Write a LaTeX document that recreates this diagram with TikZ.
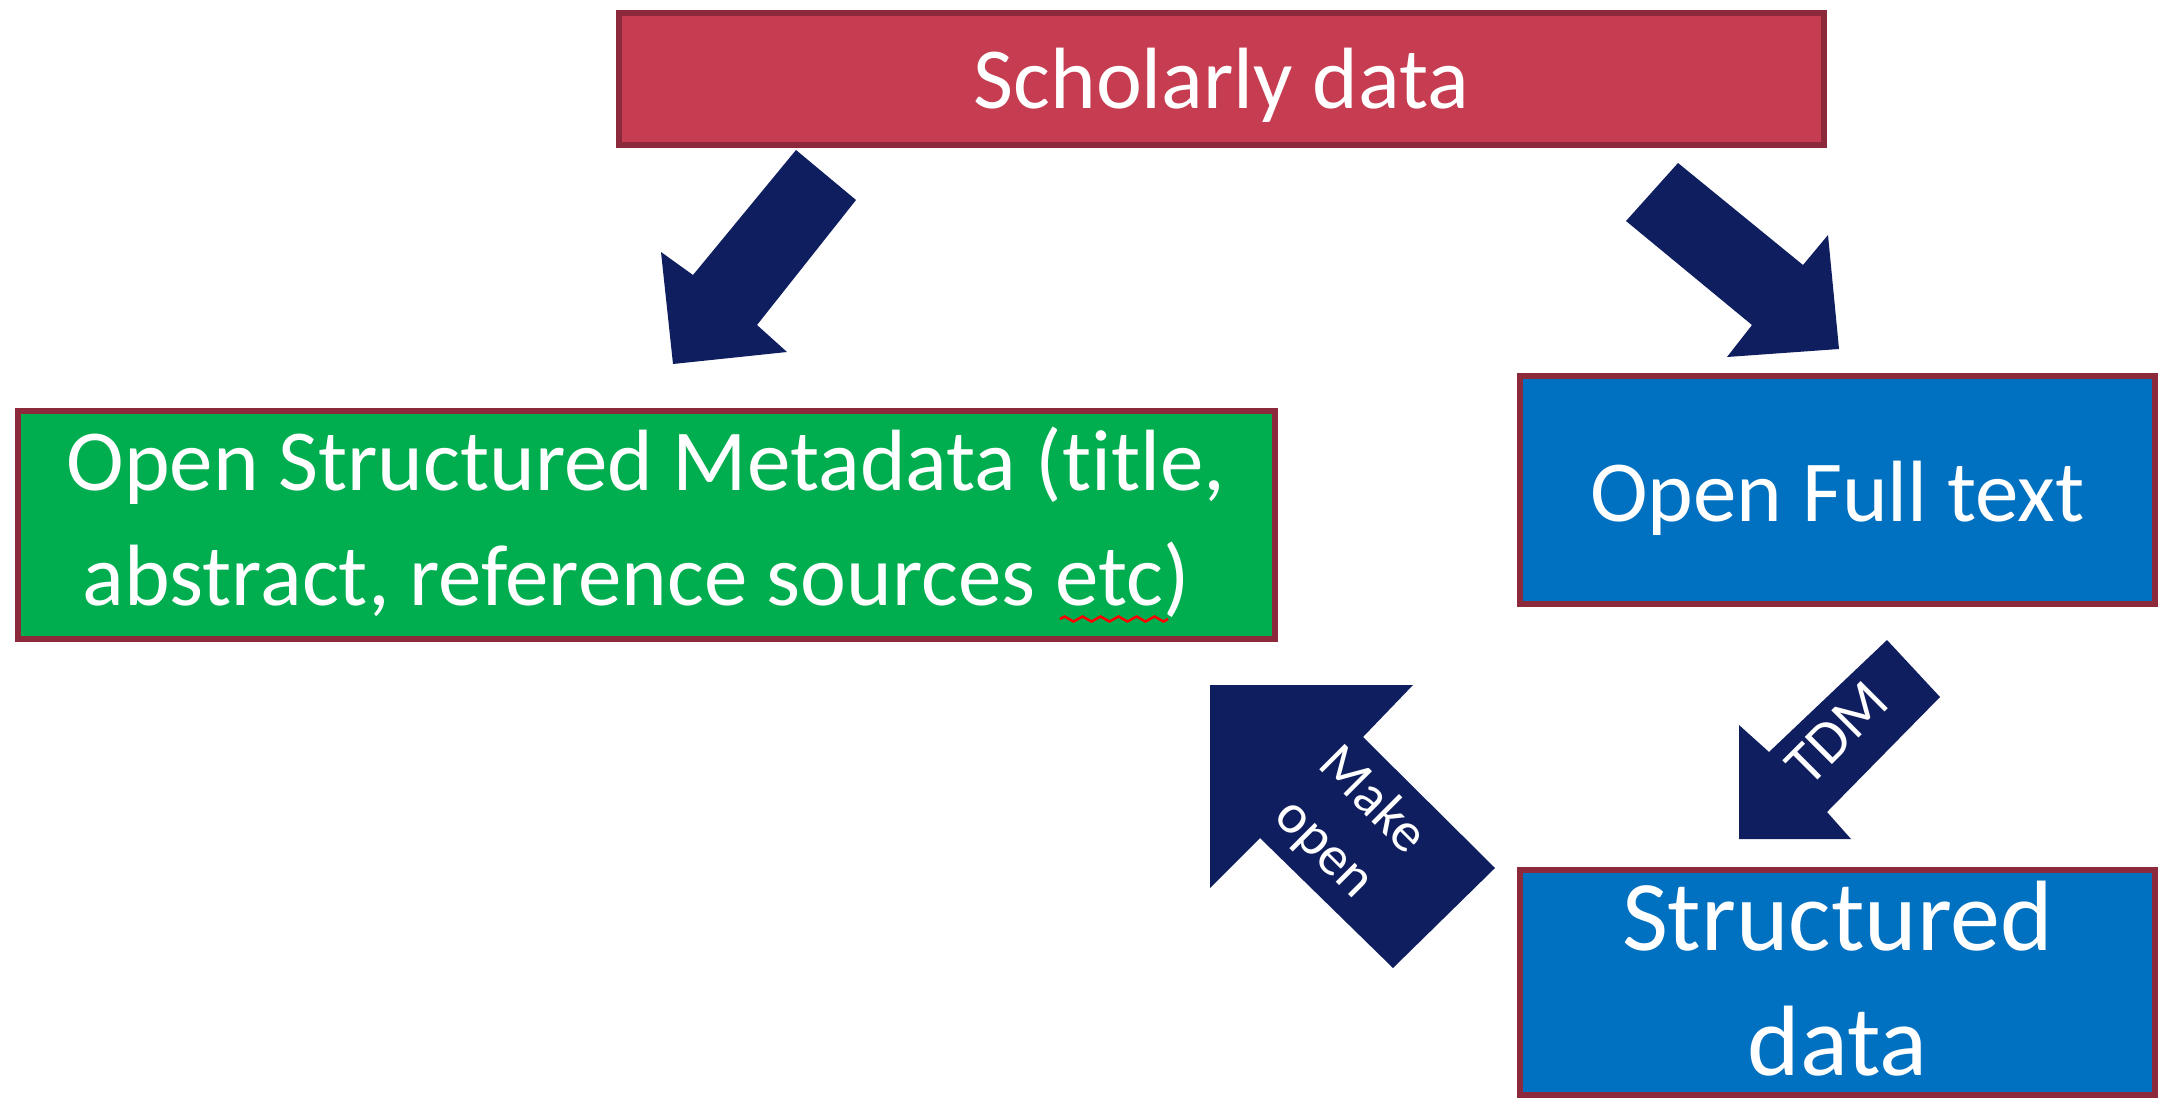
\documentclass[tikz,border=0pt]{standalone}
\usepackage{fontspec}
\setmainfont{Carlito}[Ligatures={NoCommon,NoContextual}]
\usetikzlibrary{decorations.pathmorphing,shadows}
\definecolor{navy}{HTML}{0F1E5F}
\definecolor{boxred}{HTML}{C63C50}
\definecolor{boxgreen}{HTML}{00AE50}
\definecolor{boxblue}{HTML}{0070C0}
\definecolor{edgered}{HTML}{8C2A3C}
\definecolor{shadowpink}{HTML}{C08490}
\definecolor{spellred}{HTML}{FF0000}
\begin{document}
\begin{tikzpicture}[x=1pt,y=-1pt,
  box/.style={rectangle, draw=edgered, line width=6pt, inner sep=0pt,
    drop shadow={shadow xshift=3pt, shadow yshift=-3pt, fill=shadowpink, opacity=1}},
  lbl/.style={text=white, inner sep=0pt, anchor=base, align=center},
  arrowlbl/.style={text=white, inner sep=0pt, anchor=center, align=center},
  blockarrow/.style={fill=navy},
  squiggle/.style={draw=spellred, line width=2.5pt, decorate,
    decoration={zigzag, segment length=18pt, amplitude=2.5pt}}]
\useasboundingbox (0,0) rectangle (2161,1098);

% boxes (text nodes: anchor=base sits on the LAST line's baseline)
\node[box, fill=boxred, minimum width=1205pt, minimum height=132pt] (schol) at (1221.5,79) {};
\node[lbl, font=\fontsize{87}{110}\selectfont] (scholtxt) at (1221.5,108) {Scholarly data};

\node[box, fill=boxgreen, minimum width=1257pt, minimum height=228pt] (meta) at (646,524.5) {};
\node[lbl, font=\fontsize{87}{115}\selectfont] (metatxt) at (646,605)
  {Open Structured Metadata (title,\\abstract, reference sources etc)\hspace*{20pt}};

\node[box, fill=boxblue, minimum width=635pt, minimum height=228pt] (full) at (1837.5,490) {};
\node[lbl, font=\fontsize{87}{110}\selectfont] (fulltxt) at (1837.5,521) {Open Full text};

\node[box, fill=boxblue, minimum width=635pt, minimum height=225pt] (struct) at (1837.5,982.5) {};
\node[lbl, font=\fontsize{100}{125}\selectfont] (structtxt) at (1837.5,1075) {Structured\\data};

% spell-check squiggle under "etc"
\coordinate (sqa) at (1060,619);
\coordinate (sqb) at (1168,619);
\draw[squiggle] (sqa) -- (sqb);

% block arrows
\fill[blockarrow] (796,150) coordinate (a1) -- (856,200) -- (757,325) -- (787,352)
  -- (673,364) -- (661,252) -- (693,275) -- cycle;
\fill[blockarrow] (1678,163) coordinate (a2) -- (1803,265) -- (1828,235) -- (1839,349)
  -- (1727,357) -- (1752,325) -- (1626,221) -- cycle;
\fill[blockarrow] (1887,640) coordinate (a3) -- (1940,697) -- (1827,812) -- (1851,839)
  -- (1739,839) -- (1739,725) -- (1769,752) -- cycle;
\fill[blockarrow] (1210,685) coordinate (a4) -- (1413,685) -- (1363,737) -- (1495,868)
  -- (1393,968) -- (1260,838) -- (1210,888) -- cycle;

\node[arrowlbl, rotate=45, font=\fontsize{60}{72}\selectfont] (tdm) at (1837,733) {TDM};
\node[arrowlbl, rotate=-45, font=\fontsize{56}{68}\selectfont] (makeopen) at (1348,825) {Make\\open};
\end{tikzpicture}
\end{document}
